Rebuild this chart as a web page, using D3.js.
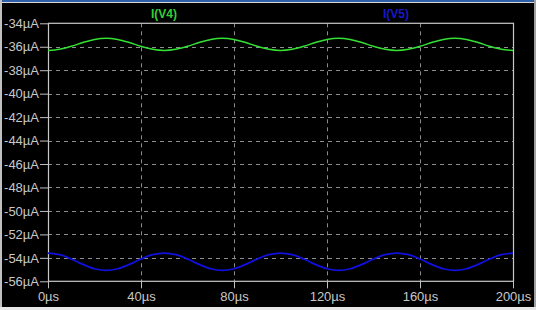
<!DOCTYPE html>
<html>
<head>
<meta charset="utf-8">
<script src="https://cdn.jsdelivr.net/npm/d3@7"></script>
<style>
  html, body { margin: 0; padding: 0; background: #000; }
  svg { display: block; }
  text { font-family: "Liberation Sans", Arial, sans-serif; }
</style>
</head>
<body>
<div id="chart"></div>
<script>
// time axis in microseconds, one sample every 5 us
const times = [0, 5, 10, 15, 20, 25, 30, 35, 40, 45, 50, 55, 60, 65, 70, 75, 80, 85, 90, 95, 100,
  105, 110, 115, 120, 125, 130, 135, 140, 145, 150, 155, 160, 165, 170, 175, 180, 185, 190, 195, 200];

// I(V4) in uA
const iV4 = [-36.31, -36.21, -35.96, -35.64, -35.38, -35.28, -35.38, -35.64, -35.96, -36.21, -36.31,
  -36.21, -35.96, -35.64, -35.38, -35.28, -35.38, -35.64, -35.96, -36.21, -36.31,
  -36.21, -35.96, -35.64, -35.38, -35.28, -35.38, -35.64, -35.96, -36.21, -36.31,
  -36.21, -35.96, -35.64, -35.38, -35.28, -35.38, -35.64, -35.96, -36.21, -36.31];

// I(V5) in uA
const iV5 = [-53.59, -53.73, -54.10, -54.56, -54.93, -55.07, -54.93, -54.56, -54.10, -53.73, -53.59,
  -53.73, -54.10, -54.56, -54.93, -55.07, -54.93, -54.56, -54.10, -53.73, -53.59,
  -53.73, -54.10, -54.56, -54.93, -55.07, -54.93, -54.56, -54.10, -53.73, -53.59,
  -53.73, -54.10, -54.56, -54.93, -55.07, -54.93, -54.56, -54.10, -53.73, -53.59];

const yTicks = [-34, -36, -38, -40, -42, -44, -46, -48, -50, -52, -54, -56];
const xTicks = [0, 40, 80, 120, 160, 200];
const traceNames = ["I(V4)", "I(V5)"];

const width = 536;
const height = 310;
const plotLeft = 48, plotRight = 513, plotTop = 23.3, plotBottom = 281.3;

const svg = d3.select("#chart")
  .append("svg")
  .attr("width", width)
  .attr("height", height);

// window background + borders
svg.append("rect").attr("width", width).attr("height", height).attr("fill", "#000");
svg.append("rect").attr("x", 0).attr("y", 0).attr("width", width).attr("height", 2).attr("fill", "#2f5fa8");
svg.append("rect").attr("x", 0).attr("y", 2).attr("width", width).attr("height", 1).attr("fill", "#d8d8d8");
svg.append("rect").attr("x", 0).attr("y", 0).attr("width", 2).attr("height", height).attr("fill", "#c0c0c0");
svg.append("rect").attr("x", 534).attr("y", 0).attr("width", 2).attr("height", height).attr("fill", "#a0a0a0");
svg.append("rect").attr("x", 0).attr("y", 307).attr("width", width).attr("height", 3).attr("fill", "#e8e8e8");

const x = d3.scaleLinear().domain([0, 200]).range([plotLeft, plotRight]);
const y = d3.scaleLinear().domain([-56, -34]).range([plotBottom, plotTop]);

// dashed grid
svg.append("g")
  .selectAll("line")
  .data(yTicks.slice(1, -1))
  .enter()
  .append("line")
  .attr("x1", plotLeft).attr("x2", plotRight)
  .attr("y1", d => Math.round(y(d)) + 0.5)
  .attr("y2", d => Math.round(y(d)) + 0.5)
  .attr("stroke", "#8c8c8c")
  .attr("stroke-dasharray", "4,4");

svg.append("g")
  .selectAll("line")
  .data(xTicks.slice(1, -1))
  .enter()
  .append("line")
  .attr("y1", plotTop).attr("y2", plotBottom)
  .attr("x1", d => Math.round(x(d)) + 0.5)
  .attr("x2", d => Math.round(x(d)) + 0.5)
  .attr("stroke", "#8c8c8c")
  .attr("stroke-dasharray", "4,4");

// axes
const yAxis = d3.axisLeft(y)
  .tickValues(yTicks)
  .tickSize(8)
  .tickSizeOuter(0)
  .tickPadding(1)
  .tickFormat(d => d + "µA");

const xAxis = d3.axisBottom(x)
  .tickValues(xTicks)
  .tickSize(7)
  .tickSizeOuter(0)
  .tickPadding(3)
  .tickFormat(d => d + "µs");

const gy = svg.append("g")
  .attr("transform", "translate(" + plotLeft + ",0)")
  .call(yAxis);

const gx = svg.append("g")
  .attr("transform", "translate(0," + plotBottom + ")")
  .call(xAxis);

[gy, gx].forEach(g => {
  g.select(".domain").remove();
  g.selectAll("line").attr("stroke", "#c0c0c0");
  g.selectAll("text")
    .attr("fill", "#c8c8c8")
    .style("font-size", "13px");
});

// plot frame
svg.append("rect")
  .attr("x", plotLeft + 0.5).attr("y", plotTop)
  .attr("width", plotRight - plotLeft).attr("height", plotBottom - plotTop)
  .attr("fill", "none")
  .attr("stroke", "#c8c8c8")
  .attr("stroke-width", 1.2);

const line = d3.line()
  .x((d, i) => x(times[i]))
  .y(d => y(d))
  .curve(d3.curveCatmullRom);

svg.append("path")
  .attr("d", line(iV4))
  .attr("fill", "none")
  .attr("stroke", "#33e033")
  .attr("stroke-width", 1.5);

svg.append("path")
  .attr("d", line(iV5))
  .attr("fill", "none")
  .attr("stroke", "#1010e0")
  .attr("stroke-width", 1.8);

// trace labels
svg.append("text")
  .attr("x", 164).attr("y", 18)
  .attr("text-anchor", "middle")
  .attr("fill", "#33d033")
  .style("font-size", "12px")
  .style("font-weight", "bold")
  .text(traceNames[0]);

svg.append("text")
  .attr("x", 396).attr("y", 18)
  .attr("text-anchor", "middle")
  .attr("fill", "#1818c8")
  .style("font-size", "12px")
  .style("font-weight", "bold")
  .text(traceNames[1]);
</script>
</body>
</html>
